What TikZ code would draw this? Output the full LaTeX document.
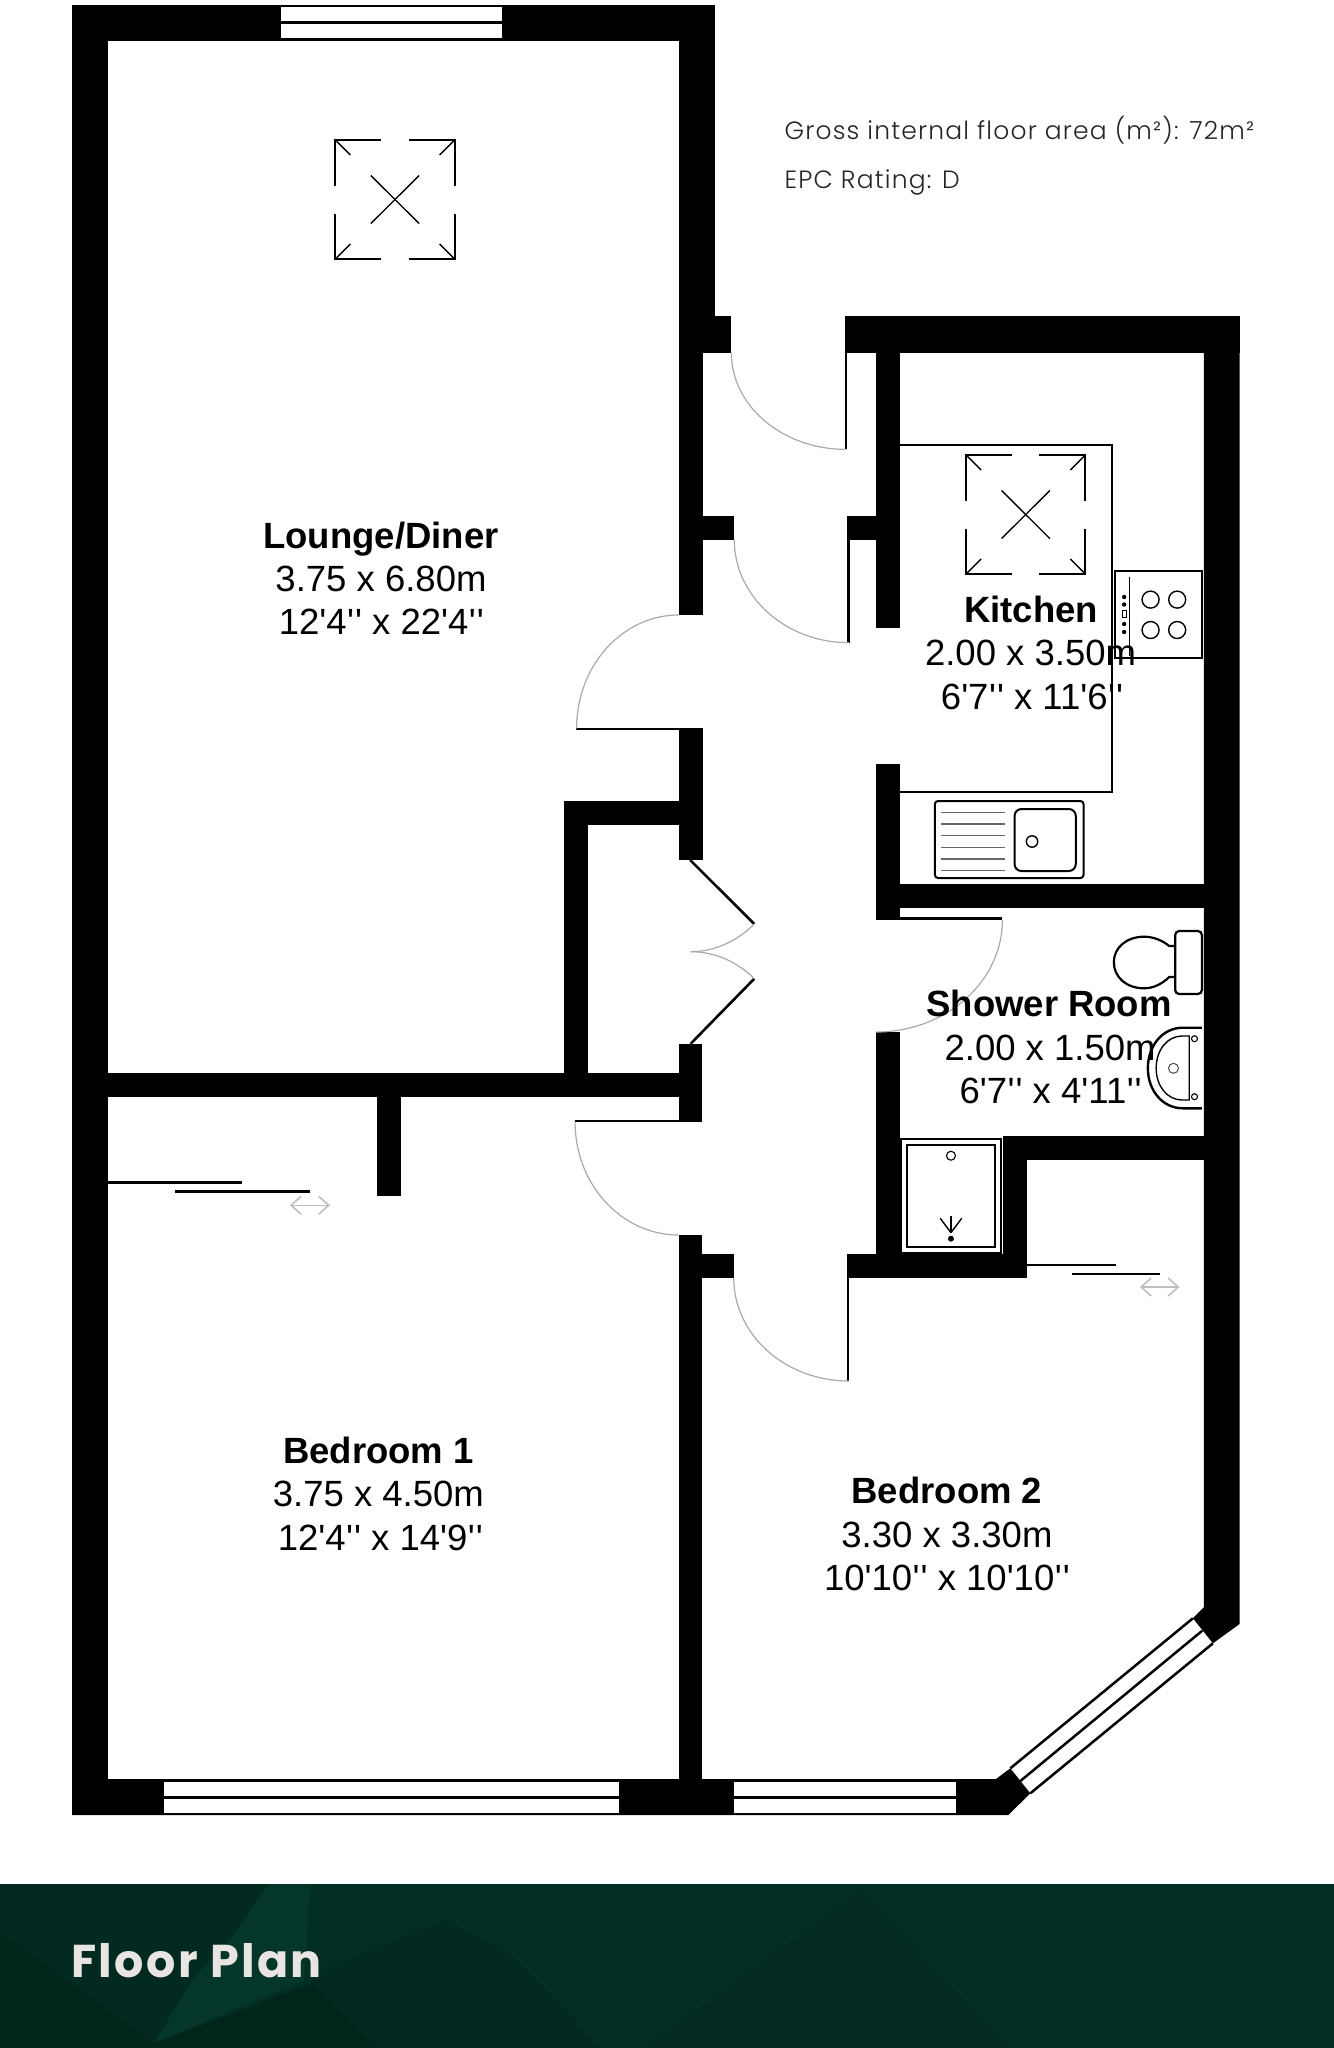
\documentclass[tikz,border=0pt]{standalone}
\usepackage{fontspec}
\setmainfont{Liberation Sans}
\newfontfamily\lab{Liberation Sans}
\newfontfamily\popf{Poppins}[UprightFont=* Light,LetterSpace=4.7]
\newfontfamily\popb{Poppins}[UprightFont=* Bold,LetterSpace=5.2]
\definecolor{bandbase}{HTML}{032E23}
\definecolor{bandlight}{HTML}{04362A}
\definecolor{banddark}{HTML}{02251B}
\definecolor{bandmid}{HTML}{032A20}
\definecolor{swing}{HTML}{AAAAAA}
\definecolor{drain}{HTML}{666666}
\definecolor{ftitle}{HTML}{E8E4E2}
\newcommand{\inch}{\kern.5pt'\kern1pt'}
\tikzset{
  wall/.style={fill=black},
  glass/.style={fill=white},
  leaf/.style={draw=black,line width=2.6pt},
  arcline/.style={draw=swing,line width=1.2pt},
  fix/.style={draw=black,line width=2pt},
  thinfix/.style={draw=black,line width=1.4pt},
  roomlabel/.style={font=\lab\fontsize{36.5}{40}\selectfont,anchor=base,inner sep=0pt,text=black},
  roomtitle/.style={font=\lab\bfseries\fontsize{36.5}{40}\selectfont,anchor=base,inner sep=0pt,text=black},
  infotext/.style={font=\popf\fontsize{25}{28}\selectfont,anchor=base west,inner sep=0pt,text=black!85},
}
\newcommand{\skylight}[2]{%
  \begin{scope}[shift={(#1,#2)}]
    \draw[fix] (-59.5,-14) -- (-59.5,-59.5) -- (-13.5,-59.5);
    \draw[fix] (13.5,-59.5) -- (59.5,-59.5) -- (59.5,-14);
    \draw[fix] (-59.5,14) -- (-59.5,59.5) -- (-13.5,59.5);
    \draw[fix] (13.5,59.5) -- (59.5,59.5) -- (59.5,14);
    \draw[thinfix] (-59.5,-59.5) -- (-44.5,-44.5);
    \draw[thinfix] (59.5,-59.5) -- (44.5,-44.5);
    \draw[thinfix] (-59.5,59.5) -- (-44.5,44.5);
    \draw[thinfix] (59.5,59.5) -- (44.5,44.5);
    \draw[thinfix] (-24,-24) -- (24,24);
    \draw[thinfix] (24,-24) -- (-24,24);
  \end{scope}}
\newcommand{\sliderarrow}[3]{%
  \draw[draw=black!25,line width=1.6pt] (#1,#3) -- (#2,#3);
  \draw[draw=black!25,line width=1.6pt] (#1+10,#3-9) -- (#1,#3) -- (#1+10,#3+9);
  \draw[draw=black!25,line width=1.6pt] (#2-10,#3-9) -- (#2,#3) -- (#2-10,#3+9);}
\begin{document}
\begin{tikzpicture}[x=1.001pt,y=-1pt]
\useasboundingbox (0,0) rectangle (1331.67,2048);
\fill[white] (0,0) rectangle (1331.67,2048);

% band
\fill[bandbase] (-2,1884) rectangle (1340,2050);
\fill[bandmid] (-2,1884) -- (268,1884) -- (232,1937) -- (192,1980) -- (154,2043) -- (-2,1930) -- cycle;
\fill[bandlight] (268,1884) -- (310,1884) -- (304,1980) -- (154,2043) -- (192,1980) -- (232,1937) -- cycle;
\fill[banddark] (-2,1930) -- (154,2043) -- (312,1983) -- (380,2050) -- (-2,2050) -- cycle;
\fill[bandmid] (330,1967) -- (446,1920) -- (513,1957) -- (603,2050) -- (380,2050) -- (312,1983) -- cycle;
\fill[bandmid!70!bandbase] (640,2050) -- (860,1890) -- (1010,2050) -- cycle;

% outer and lounge walls
\fill[wall] (72,4.5) rectangle (108,1815);
\fill[wall] (72,4.5) rectangle (714,40.7);
\fill[wall] (678,4.5) rectangle (714,316);
\fill[wall] (678,316) rectangle (730.6,352.6);
\fill[wall] (678,316) rectangle (702,615);
\fill[wall] (702,516) rectangle (733.5,539.5);
\fill[wall] (678,728) rectangle (702,860);
\fill[wall] (563,801) rectangle (678,825);
\fill[wall] (563,801) rectangle (587,1096);
\fill[wall] (72,1072.7) rectangle (678,1096.7);
\fill[wall] (678,1043.7) rectangle (701.6,1122);
\fill[wall] (376.5,1096) rectangle (400.6,1196);
\fill[wall] (678,1235) rectangle (701.6,1815);
\fill[wall] (701.6,1254) rectangle (733,1278);
\fill[wall] (72,1779) -- (995,1779) -- (1009.3,1768.3) -- (1029.3,1793.3) -- (1007.3,1815) -- (72,1815) -- cycle;

% kitchen and right walls
\fill[wall] (844,316) rectangle (1238.3,352.6);
\fill[wall] (1202.7,316) -- (1238.3,316) -- (1238.3,1624) -- (1211.7,1643.3) -- (1191.7,1618.3) -- (1202.7,1607.3) -- cycle;
\fill[wall] (875,352) rectangle (899,627.7);
\fill[wall] (875,764) rectangle (899,919.3);
\fill[wall] (846.5,516) rectangle (875,539.5);
\fill[wall] (875,884) rectangle (1203,908);
\fill[wall] (875,1032) rectangle (899,1278);
\fill[wall] (846,1254) rectangle (1026,1278);
\fill[wall] (1002.4,1136) rectangle (1026,1278);
\fill[wall] (1002.4,1136) rectangle (1203,1160);

% windows
\fill[glass] (281,7.3) rectangle (501.5,21);
\fill[glass] (281,24) rectangle (501.5,38);
\fill[glass] (164,1782) rectangle (618,1796);
\fill[glass] (164,1799) rectangle (618,1813);
\fill[glass] (733,1782) rectangle (955,1796);
\fill[glass] (733,1799) rectangle (955,1813);
\draw[fix,line width=2.5pt] (1191.7,1618.3) -- (1009.3,1768.3);
\draw[fix,line width=2.5pt] (1201,1630.7) -- (1019.3,1781);
\draw[fix,line width=2.5pt] (1211.7,1643.3) -- (1029.3,1793.3);

% door leaves
\draw[leaf] (845,352) -- (845,449.4);
\draw[leaf] (847.5,539) -- (847.5,642.7);
\draw[leaf] (847.3,1278) -- (847.3,1381);
\draw[leaf] (574.5,1121) -- (678,1121);
\draw[leaf] (575.8,728.8) -- (678,728.8);
\draw[leaf] (875,918.5) -- (1001.4,918.5);
\draw[leaf] (689.4,860) -- (753.5,924);
\draw[leaf] (753.5,978.7) -- (690,1043.7);

% door swings
\draw[arcline] (730.6,352.6) .. controls (730.6,406.1) and (781.8,449.4) .. (845,449.4);
\draw[arcline] (733.5,539.5) .. controls (733.5,596.5) and (784.8,642.7) .. (848,642.7);
\draw[arcline] (576,728.5) .. controls (576,665.8) and (621.7,615) .. (678,615);
\draw[arcline] (574.5,1122) .. controls (574.5,1184.4) and (620.8,1235) .. (678,1235);
\draw[arcline] (733,1278) .. controls (733,1334.9) and (784.5,1381) .. (848,1381);
\draw[arcline] (1001.4,920) .. controls (1001.4,981.9) and (944.8,1032) .. (875,1032);
\draw[arcline] (753.5,924) .. controls (736.5,941) and (714,951.7) .. (690,951.7);
\draw[arcline] (753.5,978.7) .. controls (736.5,961.7) and (714,951.7) .. (690,951.7);

% sliding doors
\fill[wall] (108,1181) rectangle (242,1184.3);
\fill[wall] (175,1190.3) rectangle (309.6,1193.3);
\sliderarrow{290.8}{328.4}{1205.3}
\fill[wall] (1026,1263.5) rectangle (1114.4,1266);
\fill[wall] (1070.8,1272.5) rectangle (1158.5,1275);
\sliderarrow{1140}{1177}{1287}

% skylights
\skylight{394.6}{199.5}
\skylight{1024.7}{514.5}

% worktop
\draw[fix] (899,444.7) -- (1111,444.7) -- (1111,792) -- (899,792);

% hob
\draw[fix] (1113.5,571) rectangle (1201,658);
\draw[thinfix] (1128.6,576.7) -- (1128.6,656);
\draw[thinfix] (1149.4,599.6) circle[radius=8.5];
\draw[thinfix] (1176,599.6) circle[radius=8.5];
\draw[thinfix] (1149.4,630) circle[radius=8.5];
\draw[thinfix] (1176,630) circle[radius=8.5];
\fill[black] (1123,597) circle[radius=2.2];
\fill[black] (1123,604.5) circle[radius=2.2];
\fill[black] (1123,624) circle[radius=2.2];
\fill[black] (1123,632) circle[radius=2.2];
\draw[draw=black,line width=.6pt] (1121.2,610.5) rectangle (1124.8,617.5);

% sink
\draw[fix,rounded corners=3pt] (934,801) rectangle (1082.4,878);
\draw[fix,rounded corners=7pt] (1013.5,809) rectangle (1074.7,871);
\draw[thinfix] (1031,841.5) circle[radius=5.7];
\foreach \yy in {812.6,824,835.6,847.4,859,870.4}
  \draw[draw=drain,line width=1.4pt] (940.4,\yy) -- (1004,\yy);

% WC
\draw[fix,line width=2.2pt,rounded corners=4pt] (1174,931) rectangle (1200.7,994);
\draw[fix,line width=2.2pt] (1174,946) -- (1168,946) .. controls (1162,941) and (1153,936.7) .. (1143,936.7)
  .. controls (1125,936.7) and (1112.7,948) .. (1112.7,962)
  .. controls (1112.7,977) and (1125,988.3) .. (1143,988.3)
  .. controls (1153,988.3) and (1162,983) .. (1168,977) -- (1174,977);

% basin
\draw[fix,line width=2.4pt] (1200.7,1027.7) -- (1181.7,1027.7) .. controls (1161,1027.7) and (1146.7,1046) .. (1146.7,1068.3)
  .. controls (1146.7,1090) and (1161,1108.3) .. (1181.7,1108.3) -- (1200.7,1108.3);
\draw[thinfix] (1188,1036) -- (1181,1036) .. controls (1166,1036) and (1155,1050) .. (1155,1068.3)
  .. controls (1155,1086) and (1166,1100) .. (1181,1100) -- (1188,1100) -- cycle;
\draw[draw=black,line width=1.1pt] (1193.3,1038.7) circle[radius=3];
\draw[draw=black,line width=1.1pt] (1193.3,1096.7) circle[radius=3];
\draw[draw=black!70,line width=1pt] (1172.3,1068.3) circle[radius=5];

% shower
\draw[fix] (900.5,1139) rectangle (1000,1252.7);
\draw[fix] (906,1144.7) rectangle (994,1246.7);
\draw[draw=black,line width=1.1pt] (950,1155.7) circle[radius=4.5];
\fill[black] (950,1238.7) circle[radius=3];
\draw[thinfix] (950,1232.7) -- (939.3,1218.3);
\draw[thinfix] (950,1232.7) -- (950,1216);
\draw[thinfix] (950,1232.7) -- (960.7,1218.3);

% labels
\node[roomtitle] (lt) at (380.6,548) {Lounge/Diner};
\node[roomlabel] (lm) at (380.6,591.5) {3.75 x 6.80m};
\node[roomlabel] (lf) at (381,634.5) {12'4\inch{} x 22'4\inch{}};
\node[roomtitle] (kt) at (1030,622) {Kitchen};
\node[roomlabel] (km) at (1029.5,665.6) {2.00 x 3.50m};
\node[roomlabel] (kf) at (1031,709) {6'7\inch{} x 11'6\inch{}};
\node[roomtitle] (st) at (1048,1016) {Shower Room};
\node[roomlabel] (sm) at (1049,1060) {2.00 x 1.50m};
\node[roomlabel] (sf) at (1049.6,1103) {6'7\inch{} x 4'11\inch{}};
\node[roomtitle] (at) at (378,1463) {Bedroom 1};
\node[roomlabel] (am) at (378,1506.5) {3.75 x 4.50m};
\node[roomlabel] (af) at (380,1550) {12'4\inch{} x 14'9\inch{}};
\node[roomtitle] (bt) at (946,1503.6) {Bedroom 2};
\node[roomlabel] (bm) at (946,1547) {3.30 x 3.30m};
\node[roomlabel] (bf) at (946,1590.5) {10'10\inch{} x 10'10\inch{}};
\node[infotext] (gia) at (783.6,139) {Gross internal floor area (m²): 72m²};
\node[infotext] (epc) at (783.6,188.7) {EPC Rating: D};
\node[font=\popb\fontsize{46}{50}\selectfont,anchor=base west,inner sep=0pt,text=ftitle] (fp) at (71,1977.7) {Floor Plan};
\end{tikzpicture}
\end{document}
